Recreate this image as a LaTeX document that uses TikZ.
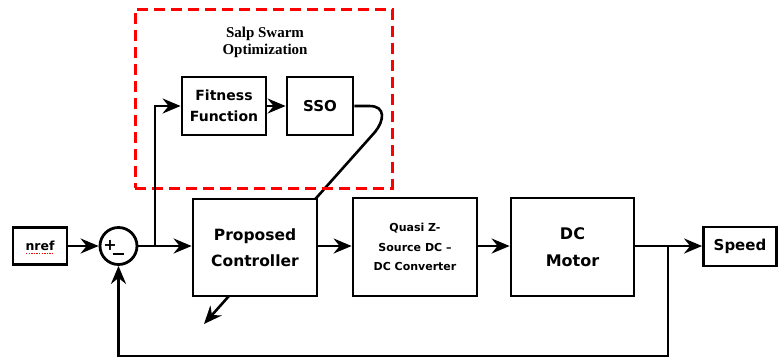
\documentclass[tikz,border=0pt]{standalone}
\usepackage{fontspec}
\setmainfont{DejaVu Sans}
\newfontfamily\titlefont{Liberation Serif}
\usetikzlibrary{arrows.meta,backgrounds}
\begin{document}
\begin{tikzpicture}[x=1pt,y=-1pt,
  blk/.style={draw,line width=2.8pt,fill=white,align=center,inner sep=0pt},
  conn/.style={line width=2.6pt,-{Stealth[length=18pt,width=15pt,inset=6pt]}},
  fs/.style={font=\bfseries\fontsize{#1}{#1}\selectfont}]
\useasboundingbox (0,0) rectangle (778,360);
% main row
\node[blk,minimum width=54pt,minimum height=37pt,fs=12.5] (nref) at (40,246) {nref};
\node[draw,circle,line width=2.8pt,fill=white,minimum size=37pt,inner sep=0pt] (sum) at (118.5,246) {};
\node[blk,minimum width=124pt,minimum height=97pt,font=\bfseries\fontsize{15.5}{26}\selectfont] (ctrl) at (255,247.5) {Proposed\\Controller};
\node[blk,minimum width=124pt,minimum height=98pt,font=\bfseries\fontsize{11}{19.5}\selectfont] (qz) at (415,247) {Quasi Z-\\Source DC --\\DC Converter};
\node[blk,minimum width=123pt,minimum height=98pt,font=\bfseries\fontsize{16}{27}\selectfont] (motor) at (572.5,247) {DC\\Motor};
\node[blk,minimum width=73pt,minimum height=39pt,fs=15] (speed) at (740,246.5) {Speed};
% optimisation block
\node[blk,minimum width=84pt,minimum height=58pt,font=\bfseries\fontsize{14}{21}\selectfont] (fit) at (224,106) {Fitness\\Function};
\node[blk,minimum width=66pt,minimum height=58pt,fs=15] (sso) at (320,106) {SSO};
\node[draw=red,dash pattern=on 11pt off 6pt,line width=3pt,minimum width=257pt,minimum height=179pt,inner sep=0pt] (opt) at (263.5,98.5) {};
\node[align=center,font=\titlefont\bfseries\fontsize{15}{17}\selectfont] (title) at (265,42) {Salp Swarm\\Optimization};
% summing signs
\node[fs=16,inner sep=0pt] (plus) at (110,245) {+};
\coordinate (m1) at (112.5,254);
\coordinate (m2) at (123.5,254);
\draw[line width=2.5pt] (m1) -- (m2);
% spell-check underline under nref
\coordinate (u1) at (26,253.5);
\coordinate (u2) at (54,253.5);
\draw[red,line width=1.3pt,dash pattern=on 1.3pt off 1.3pt] (u1) -- (u2);
% tuning curve behind the controller
\coordinate (bend) at (375,132);
\coordinate (tune) at (204,324);
\begin{pgfonlayer}{background}
\draw[conn] (sso.east) -- ++(15,0) .. controls +(17,0) and (384,121) .. (bend) -- (tune);
\end{pgfonlayer}
% connectors
\coordinate (br) at (155,246);
\coordinate (fb) at (668,246);
\coordinate (fbd) at (668,356);
\coordinate (sbd) at (118.5,356);
\draw[conn] (nref) -- (sum);
\draw[conn] (sum) -- (ctrl.west |- sum);
\draw[conn] (br) |- (fit.west);
\draw[conn] (fit) -- (sso);
\draw[conn] (ctrl.east |- sum) -- (qz.west |- sum);
\draw[conn] (qz.east |- sum) -- (motor.west |- sum);
\draw[conn] (motor.east |- sum) -- (speed.west |- sum);
\draw[conn] (fb) -- (fbd) -- (sbd) -- (sum.south);
\end{tikzpicture}
\end{document}
